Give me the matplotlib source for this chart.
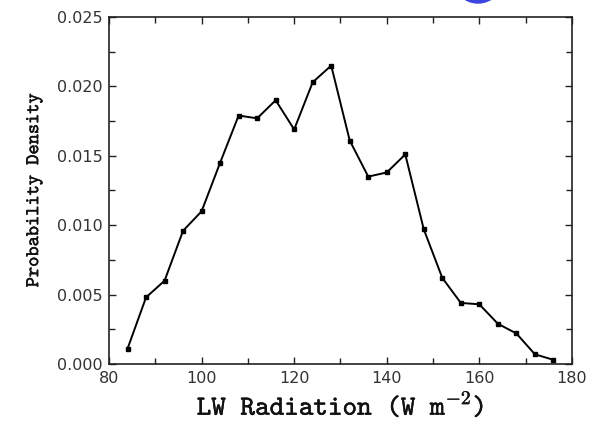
import numpy as np
import matplotlib
matplotlib.use('Agg')
from matplotlib import pyplot as plt
from matplotlib import patheffects
from matplotlib.patches import Ellipse

plt.rcParams['mathtext.fontset'] = 'cm'

# LW radiation bin centres and probability density per bin
lw_bins = [84, 88, 92, 96, 100, 104, 108, 112, 116, 120, 124, 128,
           132, 136, 140, 144, 148, 152, 156, 160, 164, 168, 172, 176]
density = [0.0011, 0.0048, 0.0060, 0.0096, 0.0110, 0.0145, 0.0179, 0.0177,
           0.0190, 0.0169, 0.0203, 0.0215, 0.0161, 0.0135, 0.0138, 0.0151,
           0.0097, 0.0062, 0.0044, 0.0043, 0.0029, 0.0022, 0.0007, 0.0003]

x_ticks = [80, 100, 120, 140, 160, 180]
y_ticks = [0.000, 0.005, 0.010, 0.015, 0.020, 0.025]

fig = plt.figure(figsize=(5.97, 4.23), dpi=100)
ax = fig.add_axes([0.1826, 0.1395, 0.958 - 0.1826, 0.9598 - 0.1395])

ax.plot(lw_bins, density, color='black', lw=1.4, marker='s', ms=2.8,
        mfc='black', mec='black')

ax.set_xlim(80, 180)
ax.set_ylim(0, 0.025)
ax.set_xticks(x_ticks)
ax.set_xticklabels([str(v) for v in x_ticks])
ax.set_yticks(y_ticks)
ax.set_yticklabels(['%.3f' % v for v in y_ticks])
ax.set_xticks(np.arange(90, 180, 20), minor=True)
ax.set_yticks(np.arange(0.0025, 0.025, 0.005), minor=True)

ax.tick_params(which='both', direction='in', top=True, right=True,
               width=1.0, colors='#222222')
ax.tick_params(which='major', length=5)
ax.tick_params(which='minor', length=4.5)
ax.tick_params(axis='x', which='major', pad=5, labelsize=11.5)
ax.tick_params(axis='y', which='major', pad=4.5, labelsize=11.5)
for lab in ax.get_xticklabels() + ax.get_yticklabels():
    lab.set_color('#333333')
for s in ax.spines.values():
    s.set_linewidth(1.2)
    s.set_color('#222222')

# slab-serif typewriter labels, thickened a touch
thick = [patheffects.withStroke(linewidth=0.3, foreground='#111111')]
ax.set_xlabel(r'LW Radiation (W m$^{\mathtt{-2}}$)', family='cmtt10',
              fontsize=20, labelpad=3, color='#111111', path_effects=thick)
ax.set_ylabel('Probability Density', family='cmtt10',
              fontsize=14, labelpad=10, color='#111111', path_effects=thick)

# blue marker cut off at the top edge
fig.patches.append(Ellipse((478 / 597, 1 + 22 / 423), 50 / 597, 50 / 423,
                           transform=fig.transFigure, color='#3b45e0',
                           clip_on=False))

fig.savefig('out.png', dpi=100)
